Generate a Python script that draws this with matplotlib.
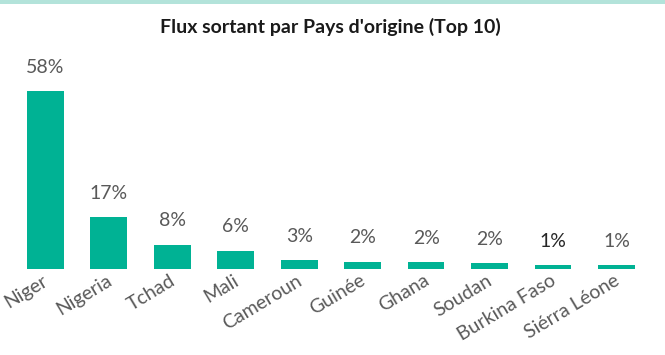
import matplotlib
matplotlib.use("Agg")
import matplotlib.pyplot as plt
import matplotlib.transforms as mtransforms
from matplotlib.patches import Rectangle
import numpy as np

countries = ["Niger", "Nigeria", "Tchad", "Mali", "Cameroun", "Guinée",
             "Ghana", "Soudan", "Burkina Faso", "Siérra Léone"]
shares = [58, 17, 8, 6, 3, 2.4, 2.3, 2.0, 1.4, 1.2]
title = "Flux sortant par Pays d'origine (Top 10)"

bar_color = "#00b294"
text_gray = "#595959"

plt.rcParams["font.family"] = ["Lato", "DejaVu Sans"]

fig = plt.figure(figsize=(6.65, 3.55), dpi=100)
ax = fig.add_axes([0.0203, 0.242, 0.9545, 0.606])

x = np.arange(len(countries))
bars = ax.bar(x, shares, width=0.58, color=bar_color)

for i, (b, v) in enumerate(zip(bars, shares)):
    col = "#262626" if countries[i] == "Burkina Faso" else text_gray
    ax.annotate(f"{v:.0f}%", (b.get_x() + b.get_width() / 2, v),
                xytext=(0, 11), textcoords="offset points",
                ha="center", va="bottom", fontsize=14, color=col)

ax.set_xlim(-0.5, len(countries) - 0.5)
ax.set_ylim(0, 70)
ax.set_xticks(x)
ax.set_xticklabels(countries, rotation=31, ha="right", rotation_mode="anchor",
                   fontsize=14, color=text_gray)
ax.tick_params(axis="x", length=0, pad=2)
shift = mtransforms.ScaledTranslation(-3 / 100, 0, fig.dpi_scale_trans)
for lbl in ax.get_xticklabels():
    lbl.set_transform(lbl.get_transform() + shift)
ax.set_yticks([])
for s in ax.spines.values():
    s.set_visible(False)

fig.text(0.497, 0.925, title, ha="center", va="center",
         fontsize=14, fontweight="bold", color="#1a1a1a")

# thin teal band across the top edge
fig.add_artist(Rectangle((0, 0.99), 1, 0.01, transform=fig.transFigure,
                         color="#b3e3da", lw=0))

fig.savefig("out.png", dpi=100)
